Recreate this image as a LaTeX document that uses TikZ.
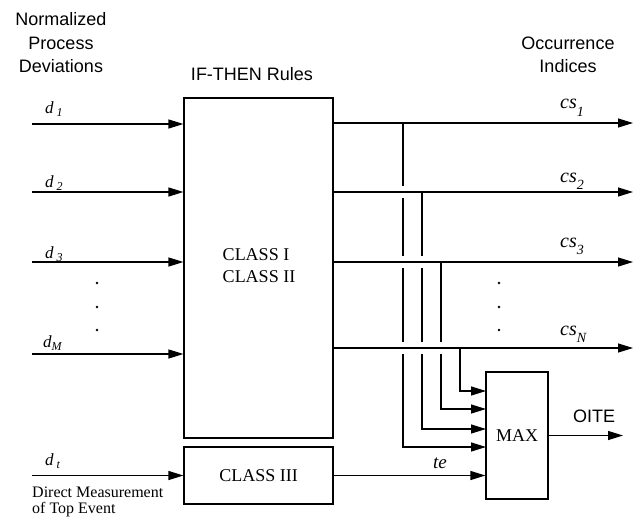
\documentclass[tikz,border=0pt]{standalone}
\usepackage{fontspec}
\setmainfont{Liberation Serif}
\setsansfont{Liberation Sans}
\usetikzlibrary{arrows.meta,calc}
\begin{document}
\begin{tikzpicture}[x=1pt,y=-1pt,
  ln/.style={line width=1.2pt},
  arr/.style={ln,-{Triangle[length=15pt,width=9pt]}},
  blk/.style={draw,line width=1.2pt,inner sep=0pt,font=\fontsize{18}{22}\selectfont,align=center},
  sans/.style={font=\sffamily\fontsize{18}{23}\selectfont,align=center,inner sep=0pt},
  dlab/.style={anchor=base west,inner sep=0pt,font=\fontsize{17}{17}\selectfont\itshape},
  cslab/.style={anchor=base west,inner sep=0pt,font=\fontsize{20}{20}\selectfont\itshape},
  gap/.style={draw=white,line width=3.5pt},
  dot/.style={circle,fill,inner sep=0pt,minimum size=2.6pt}]
\useasboundingbox (0,0) rectangle (635,517);

% titles
\node[sans,anchor=base] (t1) at (61,25) {Normalized};
\node[sans,anchor=base] (t2) at (61,49) {Process};
\node[sans,anchor=base] (t3) at (61,72) {Deviations};
\node[sans,anchor=base] (t4) at (252,80) {IF-THEN Rules};
\node[sans,anchor=base] (t5) at (568,49) {Occurrence};
\node[sans,anchor=base] (t6) at (568,72) {Indices};

% blocks
\node[blk,minimum width=149pt,minimum height=340pt] (rules) at (258.5,268) {};
\node[blk,draw=none,anchor=base] (cls1) at (256,260) {CLASS I};
\node[blk,draw=none,anchor=base west] (cls2) at (cls1.base west |- 0,282) {CLASS II};
\node[blk,minimum width=149pt,minimum height=57pt] (class3) at (258.5,475.5) {CLASS III};
\node[blk,minimum width=62pt,minimum height=127pt] (max) at (517,435.5) {MAX};

% inputs
\coordinate (i1) at (32,124);
\coordinate (i2) at (32,192);
\coordinate (i3) at (32,262);
\coordinate (iM) at (32,354);
\coordinate (it) at (32,475.5);
\draw[arr] (i1) -- (i1 -| rules.west);
\draw[arr] (i2) -- (i2 -| rules.west);
\draw[arr] (i3) -- (i3 -| rules.west);
\draw[arr] (iM) -- (iM -| rules.west);
\draw[arr] (it) -- (class3.west);

\node[dlab] (ld1) at (45,113) {d\,\raisebox{-3pt}{\fontsize{12}{12}\selectfont 1}};
\node[dlab] (ld2) at (45,187) {d\,\raisebox{-3pt}{\fontsize{12}{12}\selectfont 2}};
\node[dlab] (ld3) at (45,258) {d\,\raisebox{-3pt}{\fontsize{12}{12}\selectfont 3}};
\node[dlab] (ldM) at (43,347) {d\raisebox{-3pt}{\fontsize{12}{12}\selectfont M}};
\node[dlab] (ldt) at (45,465) {d\,\raisebox{-3pt}{\fontsize{12}{12}\selectfont t}};

\node[dot] (dl1) at (97,283) {};
\node[dot] (dl2) at (97,307) {};
\node[dot] (dl3) at (97,330) {};

\node[anchor=base west,inner sep=0pt,font=\fontsize{16}{16}\selectfont] (dm1) at (32,497) {Direct Measurement};
\node[anchor=base west,inner sep=0pt,font=\fontsize{16}{16}\selectfont] (dm2) at (32,513) {of Top Event};

% output ends
\coordinate (e1) at (633,123);
\coordinate (e2) at (633,192);
\coordinate (e3) at (633,262);
\coordinate (eN) at (633,348);

% taps
\coordinate (v1) at (403,123);
\coordinate (v2) at (422,192);
\coordinate (v3) at (441,262);
\coordinate (v4) at (460,348);
\coordinate (m1) at (486,447);
\coordinate (m2) at (486,429);
\coordinate (m3) at (486,409);
\coordinate (m4) at (486,391);

\draw[arr] (v1) |- (m1);
\draw[arr] (v2) |- (m2);
\draw[arr] (v3) |- (m3);
\draw[arr] (v4) |- (m4);

% gaps at crossings
\draw[gap] ($(v1|-v2)+(0,-6)$) -- ($(v1|-v2)+(0,6)$);
\draw[gap] ($(v1|-v3)+(0,-6)$) -- ($(v1|-v3)+(0,6)$);
\draw[gap] ($(v1|-v4)+(0,-6)$) -- ($(v1|-v4)+(0,6)$);
\draw[gap] ($(v2|-v3)+(0,-6)$) -- ($(v2|-v3)+(0,6)$);
\draw[gap] ($(v2|-v4)+(0,-6)$) -- ($(v2|-v4)+(0,6)$);
\draw[gap] ($(v3|-v4)+(0,-6)$) -- ($(v3|-v4)+(0,6)$);

% outputs
\draw[arr] (rules.east |- e1) -- (e1);
\draw[arr] (rules.east |- e2) -- (e2);
\draw[arr] (rules.east |- e3) -- (e3);
\draw[arr] (rules.east |- eN) -- (eN);

\node[cslab] (lc1) at (560,108) {cs\raisebox{-8pt}{\fontsize{14}{14}\selectfont 1}};
\node[cslab] (lc2) at (560,182) {cs\raisebox{-7pt}{\fontsize{14}{14}\selectfont 2}};
\node[cslab] (lc3) at (560,247) {cs\raisebox{-7pt}{\fontsize{14}{14}\selectfont 3}};
\node[cslab] (lcN) at (560,335) {cs\raisebox{-7pt}{\fontsize{14}{14}\selectfont N}};

\node[dot] (dr1) at (499,283) {};
\node[dot] (dr2) at (499,307) {};
\node[dot] (dr3) at (499,330) {};

% te and OITE
\draw[arr] (class3.east) -- (class3.east -| max.west);
\node[anchor=base,inner sep=0pt,font=\fontsize{19}{19}\selectfont\itshape] (lte) at (440,468) {te};
\coordinate (oite) at (623,435.5);
\draw[arr] (max.east) -- (oite);
\node[sans,anchor=base] (loite) at (594,422) {OITE};
\end{tikzpicture}
\end{document}
